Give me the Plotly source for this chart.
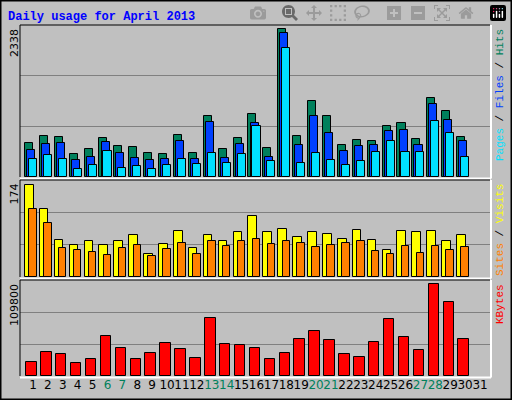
import plotly.graph_objects as go

days = list(range(1, 31))
day_labels = [str(d) for d in range(1, 32)]
weekend_days = [6, 7, 13, 14, 20, 21, 27, 28]
hits = [531, 643, 627, 356, 436, 611, 484, 468, 372, 356, 659, 372, 962, 436, 611,
        994, 452, 2338, 643, 1201, 962, 500, 579, 563, 802, 850, 595, 1249, 1041, 627]
files = [420, 515, 531, 276, 324, 547, 372, 308, 276, 292, 563, 292, 866, 308, 515,
         850, 324, 2269, 500, 962, 691, 404, 484, 500, 723, 738, 500, 1153, 898, 563]
pages = [292, 340, 292, 133, 197, 404, 149, 181, 133, 197, 292, 213, 372, 229, 356,
         802, 260, 2046, 229, 372, 276, 197, 260, 388, 563, 388, 388, 882, 691, 324]
visits = [174, 129, 70, 61, 68, 61, 67, 80, 44, 63, 87, 55, 80, 67, 85,
          116, 84, 91, 76, 84, 82, 72, 89, 70, 51, 87, 84, 87, 67, 80]
sites = [129, 101, 55, 51, 48, 42, 55, 61, 40, 53, 65, 44, 67, 59, 68,
         72, 63, 67, 65, 57, 61, 65, 67, 50, 44, 59, 46, 59, 51, 57]
kbytes = [17200, 28000, 25600, 16000, 20800, 47300, 32800, 20800, 26800, 38900, 31700, 22000, 68900, 37700, 36500,
          32800, 20800, 26800, 43700, 53300, 42500, 25600, 23200, 40000, 67700, 46000, 30400, 109800, 88100, 43600]

W, H = 512, 400
BG = "#C0C0C0"
xr = [0.13, 31.67]
xd = [20 / W, 490 / W]
panels = [(25, 177, 2402), (180, 277, 183), (280, 376, 114250)]

fig = go.Figure()
line = dict(color="black", width=1)
def bar(y, color, offset, width, axis):
    fig.add_trace(go.Bar(x=days, y=y, marker=dict(color=color, line=line),
                         offset=offset, width=width, xaxis="x" + axis, yaxis="y" + axis,
                         showlegend=False))

bar(hits, "#00805C", -0.54, 0.54, "")
bar(files, "#0040FF", -0.40, 0.54, "")
bar(pages, "#00E0FF", -0.27, 0.54, "")
bar(visits, "#FFFF00", -0.54, 0.58, "2")
bar(sites, "#FF8000", -0.25, 0.50, "2")
bar(kbytes, "#FF0000", -0.45, 0.70, "3")

tick_text = [("<span style='color:#00805C'>%s</span>" % l) if int(l) in weekend_days else l
             for l in day_labels]
layout = dict(width=W, height=H, margin=dict(l=0, r=0, t=0, b=0),
              paper_bgcolor=BG, plot_bgcolor=BG, barmode="overlay", bargap=0)
names = ["", "2", "3"]
for i, (top, bot, rmax) in enumerate(panels):
    n = names[i]
    layout["xaxis" + n] = dict(domain=xd, range=xr, anchor="y" + n, showgrid=False,
                               zeroline=False, showline=False, tickangle=0,
                               tickvals=list(range(1, 32)) if i == 2 else [],
                               ticktext=tick_text if i == 2 else None,
                               ticks="", tickfont=dict(family="DejaVu Sans", size=12, color="black"))
    layout["yaxis" + n] = dict(domain=[1 - bot / H, 1 - top / H], range=[0, rmax],
                               anchor="x" + n, tickvals=[rmax / 3, 2 * rmax / 3],
                               showticklabels=False, showgrid=True, gridcolor="#808080",
                               gridwidth=1, zeroline=False, showline=False)
    fig.add_shape(type="line", xref="paper", yref="paper", x0=xd[0], x1=xd[1],
                  y0=1 - top / H, y1=1 - top / H, line=dict(color="black", width=1))
    fig.add_shape(type="line", xref="paper", yref="paper", x0=xd[0], x1=xd[0],
                  y0=1 - bot / H, y1=1 - top / H, line=dict(color="black", width=1))
    fig.add_shape(type="line", xref="paper", yref="paper", x0=xd[0], x1=xd[1] + 1 / W,
                  y0=1 - (bot + 1.5) / H, y1=1 - (bot + 1.5) / H, line=dict(color="white", width=2))
    fig.add_shape(type="line", xref="paper", yref="paper", x0=xd[1] + 1 / W, x1=xd[1] + 1 / W,
                  y0=1 - (bot + 1.5) / H, y1=1 - top / H, line=dict(color="white", width=2))

fig.update_layout(**layout)

fig.add_shape(type="rect", xref="paper", yref="paper", x0=0, x1=1, y0=0, y1=1,
              line=dict(color="black", width=3))

fig.add_annotation(text="<b>Daily usage for April 2013</b>", xref="paper", yref="paper",
                   x=6 / W, y=1 - 8 / H, xanchor="left", yanchor="top", showarrow=False,
                   font=dict(family="Liberation Mono", size=12, color="#0000FF"))
left_labels = ["2338", "174", "109800"]
for (top, bot, rmax), lab in zip(panels, left_labels):
    fig.add_annotation(text=lab, xref="paper", yref="paper", x=14 / W, y=1 - (top + 2) / H,
                       xanchor="center", yanchor="top", textangle=-90, showarrow=False,
                       font=dict(family="DejaVu Sans", size=11, color="black"))
right_labels = [
    "<span style='color:#00E0FF'>Pages</span> / <span style='color:#0040FF'>Files</span> / <span style='color:#00805C'>Hits</span>",
    "<span style='color:#FF8000'>Sites</span> / <span style='color:#FFFF00'>Visits</span>",
    "<span style='color:#FF0000'>KBytes</span>",
]
for (top, bot, rmax), lab in zip(panels, right_labels):
    fig.add_annotation(text=lab, xref="paper", yref="paper", x=500 / W, y=1 - (top + 2) / H,
                       xanchor="center", yanchor="top", textangle=-90, showarrow=False,
                       font=dict(family="Liberation Mono", size=11, color="black"))

fig.write_html("out.html", post_script="document.body.style.margin='0';document.body.style.overflow='hidden';")
